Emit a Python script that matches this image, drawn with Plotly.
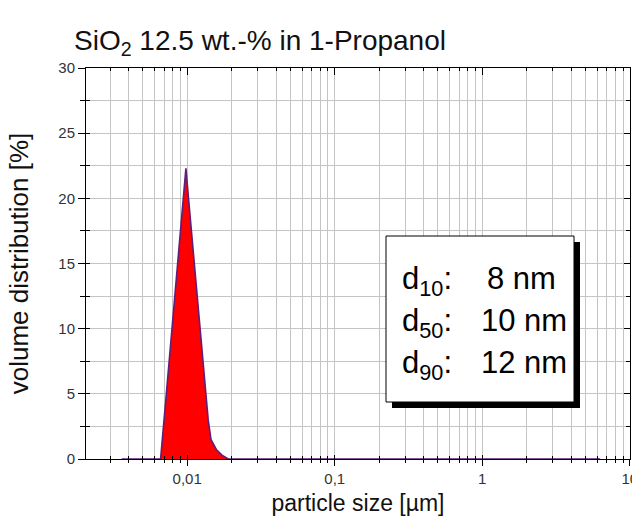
import plotly.graph_objects as go

# ---- data ----
size_um = [0.0036, 0.0060, 0.0066, 0.00722, 0.00789, 0.00861, 0.00941, 0.0098,
           0.01021, 0.01118, 0.01223, 0.01339, 0.01388, 0.01449, 0.01582, 0.0172,
           0.019, 0.03, 0.1, 1.0, 6.3]
volume_pct = [0, 0, 0, 5, 10, 15, 20, 22.3,
              20, 15, 10, 5, 3, 1.5, 0.7, 0.3,
              0, 0, 0, 0, 0]

x_tickvals = [0.01, 0.1, 1, 10]
x_ticktext = ["0,01", "0,1", "1", "10"]
y_tickvals = [0, 5, 10, 15, 20, 25, 30]
y_ticktext = ["0", "5", "10", "15", "20", "25", "30"]

stat_labels = ["d<sub>10</sub>:", "d<sub>50</sub>:", "d<sub>90</sub>:"]
stat_values = ["8 nm", "10 nm", "12 nm"]

title_text = "SiO<sub>2</sub> 12.5 wt.-% in 1-Propanol"
x_title = "particle size [µm]"
y_title = "volume distribution [%]"

# ---- layout geometry ----
W, H = 632, 526
ML, MR, MT, MB = 86, 2, 68, 67
PW, PH = W - ML - MR, H - MT - MB


def px(xp):
    return (xp - ML) / PW


def py(yp):
    return (H - MB - yp) / PH


minor_vals = [m * 10 ** e for e in range(-3, 1) for m in range(2, 10)]
FONT = "Liberation Sans, Arial, sans-serif"
GRID = "#c4c4c4"

fig = go.Figure()
fig.add_trace(go.Scatter(
    x=size_um, y=volume_pct, mode="lines", fill="tozeroy",
    fillcolor="#ff0000", line=dict(color="#5e1f7a", width=1.6),
    hoverinfo="x+y", showlegend=False))

# helper invisible traces so the extra tick axes are drawn
for xa, ya in [("x2", "y2"), ("x3", "y3")]:
    fig.add_trace(go.Scatter(x=[0.01], y=[0], xaxis=xa, yaxis=ya, mode="markers",
                             marker=dict(opacity=0), hoverinfo="skip", showlegend=False))

xrange_log = [-2.686, 1.0015]
common_x = dict(type="log", range=xrange_log, showgrid=False, zeroline=False, automargin=False)
common_y = dict(range=[0, 30], showgrid=False, zeroline=False, automargin=False)

fig.update_layout(
    width=W, height=H,
    margin=dict(l=ML, r=MR, t=MT, b=MB, pad=0, autoexpand=False),
    paper_bgcolor="white", plot_bgcolor="white",
    font=dict(family=FONT, color="#111"),
    title=dict(text=title_text, x=260 / W, xanchor="center", xref="container",
               y=1 - 40 / H, yanchor="middle", yref="container",
               font=dict(size=28, color="#111", family=FONT)),
    xaxis=dict(
        type="log", range=xrange_log, automargin=False, ticklabeloverflow="allow",
        tickvals=x_tickvals, ticktext=x_ticktext,
        ticks="outside", ticklen=6, tickwidth=1, tickcolor="black",
        showline=True, linecolor="black", linewidth=1, mirror=True,
        showgrid=True, gridcolor=GRID, gridwidth=1, zeroline=False,
        minor=dict(tickmode="array", tickvals=minor_vals, ticks="outside", ticklen=3,
                   tickcolor="black", showgrid=True, gridcolor=GRID, gridwidth=1),
        tickfont=dict(size=15, color="#333", family=FONT),
        title=dict(text=x_title, font=dict(size=23, color="#111", family=FONT), standoff=8),
    ),
    yaxis=dict(
        range=[0, 30], tickvals=y_tickvals, ticktext=y_ticktext, automargin=False,
        ticks="outside", ticklen=7, tickwidth=1, tickcolor="black",
        showline=True, linecolor="black", linewidth=1, mirror=True,
        showgrid=True, gridcolor=GRID, gridwidth=1, zeroline=False,
        minor=dict(dtick=2.5, ticks="outside", ticklen=5, tickcolor="black",
                   showgrid=True, gridcolor=GRID, gridwidth=1),
        tickfont=dict(size=15, color="#333", family=FONT),
        title=dict(text=y_title, font=dict(size=26, color="#111", family=FONT), standoff=22),
    ),
    xaxis2=dict(common_x, overlaying="x", anchor="y", side="bottom",
                tickvals=x_tickvals, showticklabels=False,
                ticks="inside", ticklen=4, tickcolor="black",
                minor=dict(tickmode="array", tickvals=minor_vals, ticks="inside", ticklen=3,
                           tickcolor="black")),
    yaxis2=dict(common_y, overlaying="y", anchor="x", side="left",
                tickvals=y_tickvals, showticklabels=False,
                ticks="inside", ticklen=4, tickcolor="black",
                minor=dict(dtick=2.5, ticks="inside", ticklen=4, tickcolor="black")),
    xaxis3=dict(common_x, overlaying="x", anchor="y", side="top",
                tickvals=x_tickvals, showticklabels=False,
                ticks="inside", ticklen=7, tickcolor="black",
                minor=dict(tickmode="array", tickvals=minor_vals, ticks="inside", ticklen=3,
                           tickcolor="black")),
    yaxis3=dict(common_y, overlaying="y", anchor="x", side="right",
                tickvals=y_tickvals, showticklabels=False,
                ticks="inside", ticklen=6, tickcolor="black",
                minor=dict(dtick=2.5, ticks="inside", ticklen=4, tickcolor="black")),
)

# statistics box with shadow
fig.add_shape(type="rect", xref="paper", yref="paper",
              x0=px(392), x1=px(580), y0=py(408), y1=py(242),
              fillcolor="black", line=dict(width=0), layer="above")
fig.add_shape(type="rect", xref="paper", yref="paper",
              x0=px(386), x1=px(574), y0=py(402), y1=py(236),
              fillcolor="white", line=dict(color="black", width=1), layer="above")

line_centers = [278, 320, 362]
value_right = [558, 569, 569]
for lab, val, yc, xr in zip(stat_labels, stat_values, line_centers, value_right):
    fig.add_annotation(xref="paper", yref="paper", x=px(400), y=py(yc + 3),
                       xanchor="left", yanchor="middle", showarrow=False,
                       text=lab, font=dict(size=31, color="black", family=FONT))
    fig.add_annotation(xref="paper", yref="paper", x=px(xr), y=py(yc),
                       xanchor="right", yanchor="middle", showarrow=False,
                       text=val, font=dict(size=31, color="black", family=FONT))

fig.write_html("out.html",
               config={"displayModeBar": False},
               post_script="document.body.style.margin='0';"
                           "document.body.style.overflow='hidden';")
